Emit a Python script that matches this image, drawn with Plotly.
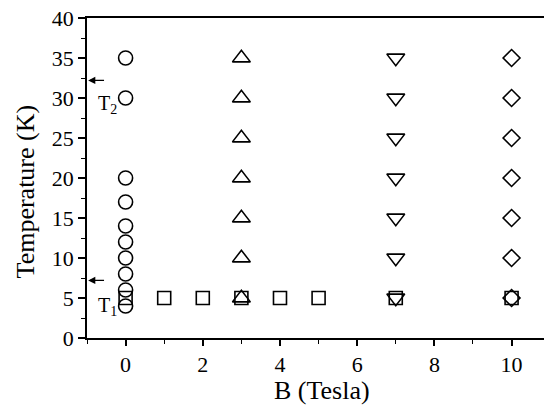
import plotly.graph_objects as go

# Measured points: field B (Tesla) and temperature T (K)
circle_B = [0, 0, 0, 0, 0, 0, 0, 0, 0, 0]
circle_T = [35, 30, 20, 17, 14, 12, 10, 8, 6, 4]

square_B = [0, 1, 2, 3, 4, 5, 7, 10]
square_T = [5, 5, 5, 5, 5, 5, 5, 5]

tri_up_B = [3, 3, 3, 3, 3, 3, 3]
tri_up_T = [35, 30, 25, 20, 15, 10, 5]

tri_down_B = [7, 7, 7, 7, 7, 7, 7]
tri_down_T = [35, 30, 25, 20, 15, 10, 5]

diamond_B = [10, 10, 10, 10, 10, 10, 10]
diamond_T = [35, 30, 25, 20, 15, 10, 5]

# Transition temperatures marked by arrows
T1 = 7.2
T2 = 32.2

x_ticks = [0, 2, 4, 6, 8, 10]
y_ticks = [0, 5, 10, 15, 20, 25, 30, 35, 40]

FONT = "Liberation Serif, Times New Roman, serif"
LW = 1.6

fig = go.Figure()


def add_series(xs, ys, symbol, size):
    fig.add_trace(go.Scatter(
        x=xs, y=ys, mode="markers",
        marker=dict(symbol=symbol, size=size, color="black",
                    line=dict(color="black", width=LW)),
        showlegend=False, hoverinfo="skip",
    ))


add_series(square_B, square_T, "square-open", 13)
add_series(circle_B, circle_T, "circle-open", 14)
add_series(tri_up_B, tri_up_T, "triangle-up-open", 15.5)
add_series(tri_down_B, tri_down_T, "triangle-down-open", 15.5)
add_series(diamond_B, diamond_T, "diamond-open", 13)

# Arrows pointing at the y axis
for t in (T1, T2):
    fig.add_annotation(
        x=-0.97, y=t, ax=-0.52, ay=t, xref="x", yref="y", axref="x", ayref="y",
        text="", showarrow=True, arrowhead=2, arrowsize=1.3, arrowwidth=1.1,
        arrowcolor="black",
    )

fig.add_annotation(x=-0.48, y=4.0, xref="x", yref="y", text="T<sub>1</sub>",
                   showarrow=False, font=dict(family=FONT, size=20, color="black"))
fig.add_annotation(x=-0.48, y=29.2, xref="x", yref="y", text="T<sub>2</sub>",
                   showarrow=False, font=dict(family=FONT, size=20, color="black"))

# Axis titles
fig.add_annotation(x=5.08, y=-0.1625, xref="x", yref="paper", text="B (Tesla)",
                   xanchor="center", yanchor="middle",
                   showarrow=False, font=dict(family=FONT, size=26, color="black"))
fig.add_annotation(x=-0.1357, y=0.458, xref="paper", yref="paper", text="Temperature (K)",
                   xanchor="center", yanchor="middle",
                   textangle=-90, showarrow=False,
                   font=dict(family=FONT, size=26, color="black"))

tick_font = dict(family=FONT, size=22, color="black")

fig.update_layout(
    width=544, height=407,
    margin=dict(l=87, r=0, t=18, b=69),
    paper_bgcolor="white", plot_bgcolor="white",
    font=dict(family=FONT, size=22, color="black"),
    xaxis=dict(
        range=[-1, 10.84], tickmode="array", tickvals=x_ticks,
        ticktext=[str(v) for v in x_ticks],
        ticks="outside", ticklen=6, tickwidth=1.5,
        tickcolor="black", showline=True, linecolor="black", linewidth=1.5, mirror=True,
        showgrid=False, zeroline=False,
        minor=dict(dtick=1, tick0=-1, ticks="outside", ticklen=4, tickwidth=1.2,
                   tickcolor="black", showgrid=False),
        tickfont=tick_font,
    ),
    yaxis=dict(
        range=[0, 40], tickmode="array", tickvals=y_ticks,
        ticktext=[str(v) for v in y_ticks],
        ticks="outside", ticklen=7, tickwidth=1.5,
        tickcolor="black", showline=True, linecolor="black", linewidth=1.5,
        showgrid=False, zeroline=False,
        minor=dict(dtick=2.5, tick0=0, ticks="outside", ticklen=4, tickwidth=1.2,
                   tickcolor="black", showgrid=False),
        tickfont=tick_font,
    ),
)

fig.write_html("out.html")
